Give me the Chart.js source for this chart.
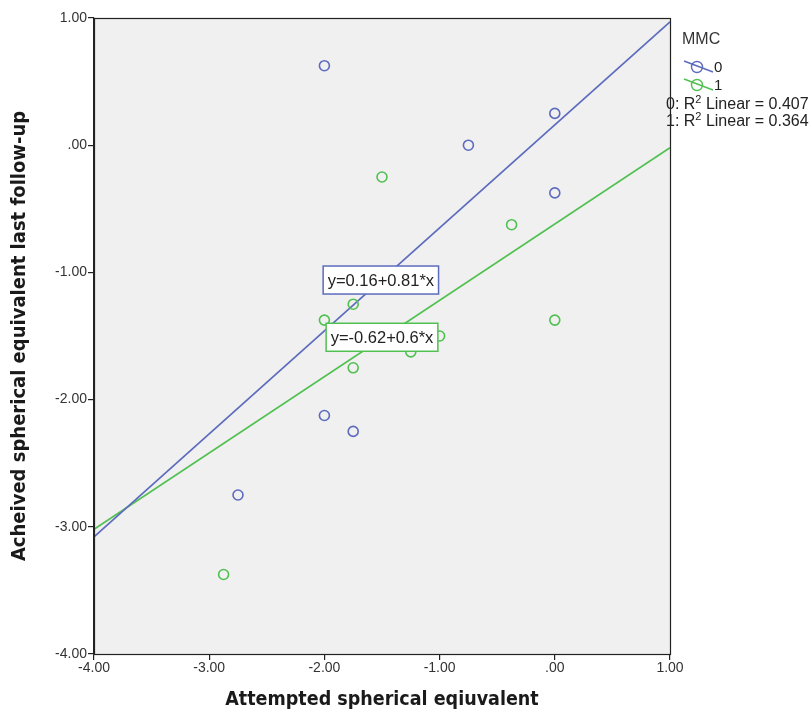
<!DOCTYPE html>
<html>
<head>
<meta charset="utf-8">
<script src="https://cdn.jsdelivr.net/npm/chart.js@4.4.1/dist/chart.umd.min.js"></script>
<style>
  html, body { margin: 0; padding: 0; background: #fff; }
  #wrap { width: 812px; height: 717px; }
</style>
</head>
<body>
<div id="wrap"><canvas id="canvas1" width="812" height="717"></canvas></div>
<script>
// group MMC = 0
var mmc0_x = [-2.00, -0.75, 0.00, 0.00, -2.00, -1.75, -2.75];
var mmc0_y = [0.625, 0.00, 0.25, -0.375, -2.125, -2.25, -2.75];
// group MMC = 1
var mmc1_x = [-1.50, -0.375, 0.00, -1.75, -2.00, -1.75, -1.25, -1.00, -2.875];
var mmc1_y = [-0.25, -0.625, -1.375, -1.25, -1.375, -1.75, -1.625, -1.50, -3.375];

// fit lines (intercept, slope) and R2 as printed
var fit_intercept = [0.16, -0.62];
var fit_slope = [0.81, 0.6];
var fit_r2 = ['0.407', '0.364'];
var fit_label = ['y=0.16+0.81*x', 'y=-0.62+0.6*x'];
var groups = ['0', '1'];

var x_range = [-4, 1];
var tick_values = [-4, -3, -2, -1, 0, 1];

var blue = '#5d6bbd';
var green = '#50c050';
var colors = [blue, green];

var SANS = '"Liberation Sans", Arial, sans-serif';
var TITLE = '"DejaVu Sans Condensed", "DejaVu Sans", Verdana, sans-serif';

function fmt(v) {
  if (Math.abs(v) < 1e-9) return '.00';
  return v.toFixed(2);
}

function pts(xs, ys) {
  var out = [];
  for (var i = 0; i < xs.length; i++) out.push({x: xs[i], y: ys[i]});
  return out;
}

function fitLine(k) {
  return x_range.map(function(x){ return {x: x, y: fit_intercept[k] + fit_slope[k] * x}; });
}

var plotBox = {
  id: 'plotBox',
  beforeDatasetsDraw: function(chart) {
    var a = chart.chartArea, ctx = chart.ctx;
    ctx.save();
    ctx.fillStyle = '#f0f0f0';
    ctx.fillRect(a.left, a.top, a.right - a.left, a.bottom - a.top);
    ctx.restore();
  },
  afterDraw: function(chart) {
    var a = chart.chartArea, ctx = chart.ctx;
    var xs = chart.scales.x, ys = chart.scales.y;
    ctx.save();
    ctx.strokeStyle = '#222';
    ctx.lineWidth = 1.2;
    ctx.strokeRect(a.left + 0.5, a.top + 0.5, a.right - a.left, a.bottom - a.top);

    // equation boxes
    var boxAt = [[-1.51, -1.06], [-1.50, -1.51]];
    ctx.font = '16.5px ' + SANS;
    ctx.textBaseline = 'middle';
    ctx.textAlign = 'center';
    for (var k = 0; k < 2; k++) {
      var cx = xs.getPixelForValue(boxAt[k][0]);
      var cy = ys.getPixelForValue(boxAt[k][1]);
      var w = ctx.measureText(fit_label[k]).width + 9;
      var h = 28;
      ctx.fillStyle = '#fff';
      ctx.fillRect(cx - w / 2, cy - h / 2, w, h);
      ctx.strokeStyle = colors[k];
      ctx.lineWidth = 1.5;
      ctx.strokeRect(cx - w / 2, cy - h / 2, w, h);
      ctx.fillStyle = '#222';
      ctx.fillText(fit_label[k], cx, cy + 1);
    }

    // legend
    ctx.textAlign = 'left';
    ctx.fillStyle = '#333';
    ctx.font = '16px ' + SANS;
    ctx.fillText('MMC', 682, 40);
    ctx.font = '15px ' + SANS;
    for (var g = 0; g < 2; g++) {
      var ly = 67 + g * 18;
      ctx.strokeStyle = colors[g];
      ctx.lineWidth = 1.4;
      ctx.beginPath();
      ctx.moveTo(684, ly - 6);
      ctx.lineTo(713, ly + 5);
      ctx.stroke();
      ctx.beginPath();
      ctx.arc(697, ly, 5.5, 0, Math.PI * 2);
      ctx.stroke();
      ctx.fillStyle = '#222';
      ctx.fillText(groups[g], 714, ly + 1);
    }
    // R2 lines
    for (var r = 0; r < 2; r++) {
      var ry = 105 + r * 17;
      var x0 = 666;
      ctx.font = '16px ' + SANS;
      var s1 = groups[r] + ': R';
      ctx.fillText(s1, x0, ry);
      var w1 = ctx.measureText(s1).width;
      ctx.font = '11px ' + SANS;
      ctx.fillText('2', x0 + w1, ry - 5);
      var w2 = ctx.measureText('2').width;
      ctx.font = '16px ' + SANS;
      ctx.fillText(' Linear = ' + fit_r2[r], x0 + w1 + w2, ry);
    }
    ctx.restore();
  }
};

var ctx = document.getElementById('canvas1').getContext('2d');
new Chart(ctx, {
  type: 'scatter',
  data: {
    datasets: [
      { label: '0', data: pts(mmc0_x, mmc0_y), borderColor: blue, backgroundColor: 'rgba(0,0,0,0)',
        pointRadius: 5, pointBorderWidth: 1.6 },
      { label: '1', data: pts(mmc1_x, mmc1_y), borderColor: green, backgroundColor: 'rgba(0,0,0,0)',
        pointRadius: 5, pointBorderWidth: 1.6 },
      { label: 'fit0', type: 'line', data: fitLine(0), borderColor: blue, borderWidth: 1.7,
        pointRadius: 0, fill: false, order: 5 },
      { label: 'fit1', type: 'line', data: fitLine(1), borderColor: green, borderWidth: 1.7,
        pointRadius: 0, fill: false, order: 5 }
    ]
  },
  options: {
    responsive: false,
    animation: false,
    events: [],
    layout: { padding: { left: 0, right: 142, top: 18, bottom: 0 } },
    plugins: { legend: { display: false }, tooltip: { enabled: false } },
    scales: {
      x: {
        type: 'linear', min: -4, max: 1,
        afterBuildTicks: function(s){ s.ticks = tick_values.map(function(v){ return {value: v}; }); },
        afterFit: function(s){ s.height = 63; },
        grid: { drawOnChartArea: false, tickLength: 6, color: '#222', tickColor: '#222', lineWidth: 1.2 },
        border: { display: true, color: '#222', width: 1.2 },
        ticks: { callback: function(v){ return fmt(v); }, color: '#333', padding: 0, maxRotation: 0,
                 font: { family: SANS, size: 14 } },
        title: { display: true, text: 'Attempted spherical eqiuvalent', color: '#1a1a1a',
                 padding: { top: 0, bottom: 5 },
                 font: { family: TITLE, size: 19.5, weight: 'bold' } }
      },
      y: {
        type: 'linear', min: -4, max: 1,
        afterBuildTicks: function(s){ s.ticks = tick_values.map(function(v){ return {value: v}; }); },
        afterFit: function(s){ s.width = 94; },
        grid: { drawOnChartArea: false, tickLength: 6, color: '#222', tickColor: '#222', lineWidth: 1.2 },
        border: { display: true, color: '#222', width: 1.2 },
        ticks: { callback: function(v){ return fmt(v); }, color: '#333', padding: 1,
                 font: { family: SANS, size: 14 } },
        title: { display: true, text: 'Acheived spherical equivalent last follow-up', color: '#1a1a1a',
                 padding: { top: 8, bottom: 0 },
                 font: { family: TITLE, size: 20, weight: 'bold' } }
      }
    }
  },
  plugins: [plotBox]
});
</script>
</body>
</html>
